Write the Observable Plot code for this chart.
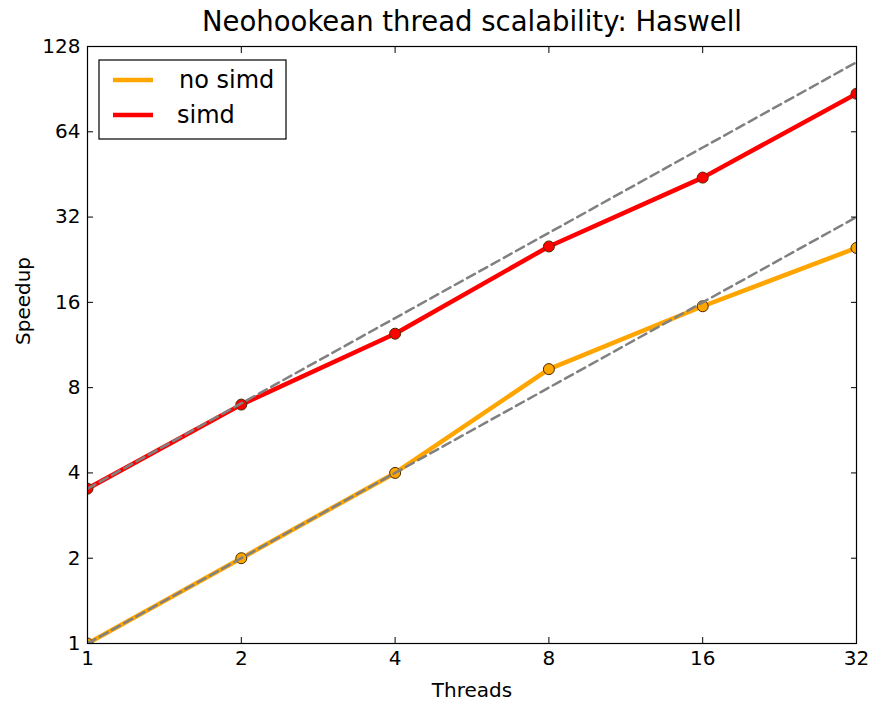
<!DOCTYPE html>
<html>
<head>
<meta charset="utf-8">
<script src="https://cdn.jsdelivr.net/npm/d3@7"></script>
<script src="https://cdn.jsdelivr.net/npm/@observablehq/plot@0.6"></script>
<style>
  body { margin: 0; background: #fff; }
  #chart { font-family: "DejaVu Sans", sans-serif; }
</style>
</head>
<body>
<div id="chart"></div>
<script>
const threads = [1, 2, 4, 8, 16, 32];
const noSimd = [1.0, 2.0, 4.0, 9.3, 15.5, 24.9];
const simd = [3.52, 6.97, 12.4, 25.2, 44.1, 87.2];
const idealNoSimd = [1, 2, 4, 8, 16, 32];
const idealSimd = [3.52, 7.04, 14.08, 28.16, 56.32, 112.64];
const xTicks = [1, 2, 4, 8, 16, 32];
const yTicks = [1, 2, 4, 8, 16, 32, 64, 128];
const seriesNames = ["no simd", "simd"];
const seriesColors = ["#FFA500", "#FF0000"];

const rows = [];
threads.forEach((t, i) => {
  rows.push({t, v: noSimd[i], s: seriesNames[0]});
  rows.push({t, v: simd[i], s: seriesNames[1]});
});
const ideal = [];
threads.forEach((t, i) => {
  ideal.push({t, v: idealNoSimd[i], s: "ideal " + seriesNames[0]});
  ideal.push({t, v: idealSimd[i], s: "ideal " + seriesNames[1]});
});

const chart = Plot.plot({
  width: 871,
  height: 702,
  marginTop: 46,
  marginBottom: 59,
  marginLeft: 87,
  marginRight: 15,
  style: {fontFamily: "DejaVu Sans, sans-serif", fontSize: "20px", color: "#000", background: "#fff"},
  x: {type: "log", base: 2, domain: [1, 32]},
  y: {type: "log", base: 2, domain: [1, 128]},
  color: {domain: seriesNames, range: seriesColors},
  marks: [
    Plot.line(rows, {x: "t", y: "v", z: "s", stroke: "s", strokeWidth: 4.5, clip: true}),
    Plot.dot(rows, {x: "t", y: "v", fill: "s", stroke: "#4a2a00", strokeWidth: 1, r: 5.5, clip: true}),
    Plot.line(ideal, {x: "t", y: "v", z: "s", stroke: "#808080", strokeWidth: 2.5, strokeDasharray: "9,5", clip: true}),
    Plot.frame({stroke: "#000", strokeWidth: 1.2}),
    Plot.axisX({anchor: "bottom", ticks: xTicks, tickSize: -6, text: null, label: null, stroke: "#000"}),
    Plot.axisX({anchor: "top", ticks: xTicks, tickSize: -6, text: null, label: null, stroke: "#000"}),
    Plot.axisY({anchor: "left", ticks: yTicks, tickSize: -6, text: null, label: null, stroke: "#000"}),
    Plot.axisY({anchor: "right", ticks: yTicks, tickSize: -6, text: null, label: null, stroke: "#000"}),
    Plot.axisX({anchor: "bottom", ticks: xTicks, tickSize: 0, tickPadding: 7, tickFormat: d => String(d), label: null, fontSize: 20}),
    Plot.axisY({anchor: "left", ticks: yTicks, tickSize: 0, tickPadding: 7, tickFormat: d => String(d), label: null, fontSize: 20}),
    Plot.text(["Neohookean thread scalability: Haswell"], {frameAnchor: "top", lineAnchor: "middle", dy: -24, fontSize: 27.5, fill: "#000"}),
    Plot.text(["Threads"], {frameAnchor: "bottom", lineAnchor: "middle", dy: 47, fontSize: 20, fill: "#000"}),
    Plot.text(["Speedup"], {frameAnchor: "left", dx: -64, rotate: -90, fontSize: 20, fill: "#000"})
  ]
});
document.getElementById("chart").appendChild(chart);

// legend
const svg = d3.select(chart);
const lg = svg.append("g").attr("font-family", "DejaVu Sans, sans-serif").attr("font-size", 24).attr("text-anchor", "start");
lg.append("rect").attr("x", 99).attr("y", 60).attr("width", 187).attr("height", 79)
  .attr("fill", "#fff").attr("stroke", "#000").attr("stroke-width", 1.2);
const legendTextX = [179, 177];
seriesNames.forEach((name, i) => {
  const y = 80 + i * 35;
  lg.append("line").attr("x1", 113).attr("x2", 153).attr("y1", y).attr("y2", y)
    .attr("stroke", seriesColors[i]).attr("stroke-width", 4.5);
  lg.append("text").attr("x", legendTextX[i]).attr("y", y).attr("dy", "0.35em").attr("fill", "#000").attr("text-anchor", "start").text(name);
});
</script>
</body>
</html>
